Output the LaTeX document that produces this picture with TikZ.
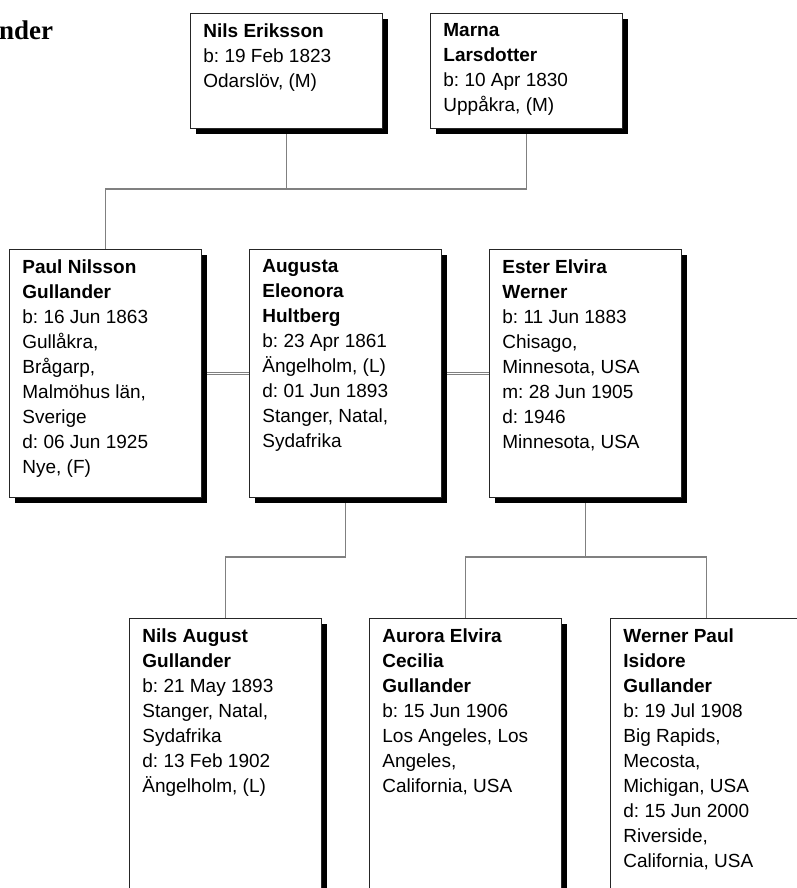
\documentclass[tikz,border=0pt]{standalone}
\usepackage{fontspec}
\setmainfont{Liberation Sans}
\newfontfamily\titlefont{Liberation Serif}
\usetikzlibrary{shadows,backgrounds}

\begin{document}
\begin{tikzpicture}[%
        x = 1pt, y = -1pt,
        person/.style = {
            draw = black!85, line width = 0.8pt, fill = white,
            anchor = north west, inner xsep = 13pt, inner ysep = 10pt,
            font = \fontsize{19}{25}\selectfont\frenchspacing,
            drop shadow = {shadow xshift = 6pt, shadow yshift = -6pt,
                           fill = black, opacity = 1}
        },
        link/.style = {draw = black!50, line width = 1.3pt},
        wed/.style = {draw = black!50, line width = 0.9pt,
                      double = white, double distance = 1.6pt}
    ]

        % Command for the text of one box: height, then the lines.
        \newcommand*{\card}[2]{\parbox[t][#1pt][t]{166pt}{\raggedright #2}}

        \useasboundingbox (0, 0) rectangle (797, 888);
        \clip (0, 0) rectangle (797, 888);

        \node[anchor = base west, inner sep = 0pt,
              font = \titlefont\fontsize{27}{30}\selectfont\bfseries]
            (title) at (-1, 40) {nder};

        % parents
        \node[person] (nils) at (190, 13)
            {\card{95}{\textbf{Nils Eriksson}\\ b: 19 Feb 1823\\ Odarslöv, (M)}};
        \node[person] (marna) at (430, 13)
            {\card{95}{\textbf{Marna}\\ \textbf{Larsdotter}\\ b: 10 Apr 1830\\ Uppåkra, (M)}};

        % Paul and his wives
        \node[person] (paul) at (9, 249)
            {\card{228}{\textbf{Paul Nilsson}\\ \textbf{Gullander}\\ b: 16 Jun 1863\\
             Gullåkra,\\ Brågarp,\\ Malmöhus län,\\ Sverige\\ d: 06 Jun 1925\\ Nye, (F)}};
        \node[person] (augusta) at (249, 249)
            {\card{228}{\textbf{Augusta}\\ \textbf{Eleonora}\\ \textbf{Hultberg}\\
             b: 23 Apr 1861\\ Ängelholm, (L)\\ d: 01 Jun 1893\\ Stanger, Natal,\\ Sydafrika}};
        \node[person] (ester) at (489, 249)
            {\card{228}{\textbf{Ester Elvira}\\ \textbf{Werner}\\ b: 11 Jun 1883\\
             Chisago,\\ Minnesota, USA\\ m: 28 Jun 1905\\ d: 1946\\ Minnesota, USA}};

        % children
        \node[person] (nilsaug) at (129, 618)
            {\card{300}{\textbf{Nils August}\\ \textbf{Gullander}\\ b: 21 May 1893\\
             Stanger, Natal,\\ Sydafrika\\ d: 13 Feb 1902\\ Ängelholm, (L)}};
        \node[person] (aurora) at (369, 618)
            {\card{300}{\textbf{Aurora Elvira}\\ \textbf{Cecilia}\\ \textbf{Gullander}\\
             b: 15 Jun 1906\\ Los Angeles, Los\\ Angeles,\\ California, USA}};
        \node[person] (werner) at (610, 618)
            {\card{300}{\textbf{Werner Paul}\\ \textbf{Isidore}\\ \textbf{Gullander}\\
             b: 19 Jul 1908\\ Big Rapids,\\ Mecosta,\\ Michigan, USA\\
             d: 15 Jun 2000\\ Riverside,\\ California, USA}};

        \coordinate (topbar) at (0, 189);
        \coordinate (lowbar) at (0, 557);

        \begin{scope}[on background layer]
            \draw[link] (nils.south) -- (nils.south |- topbar);
            \draw[link] (paul.north) |- (marna.south |- topbar) -- (marna.south);
            \draw[link] (augusta.south) -- (augusta.south |- lowbar) -| (nilsaug.north);
            \draw[link] (ester.south) -- (ester.south |- lowbar);
            \draw[link] (aurora.north) |- (werner.north |- lowbar) -- (werner.north);
            \draw[wed] (paul.east) -- (augusta.west);
            \draw[wed] (augusta.east) -- (ester.west);
        \end{scope}
        \let\card\undefined
    \end{tikzpicture}
\end{document}
